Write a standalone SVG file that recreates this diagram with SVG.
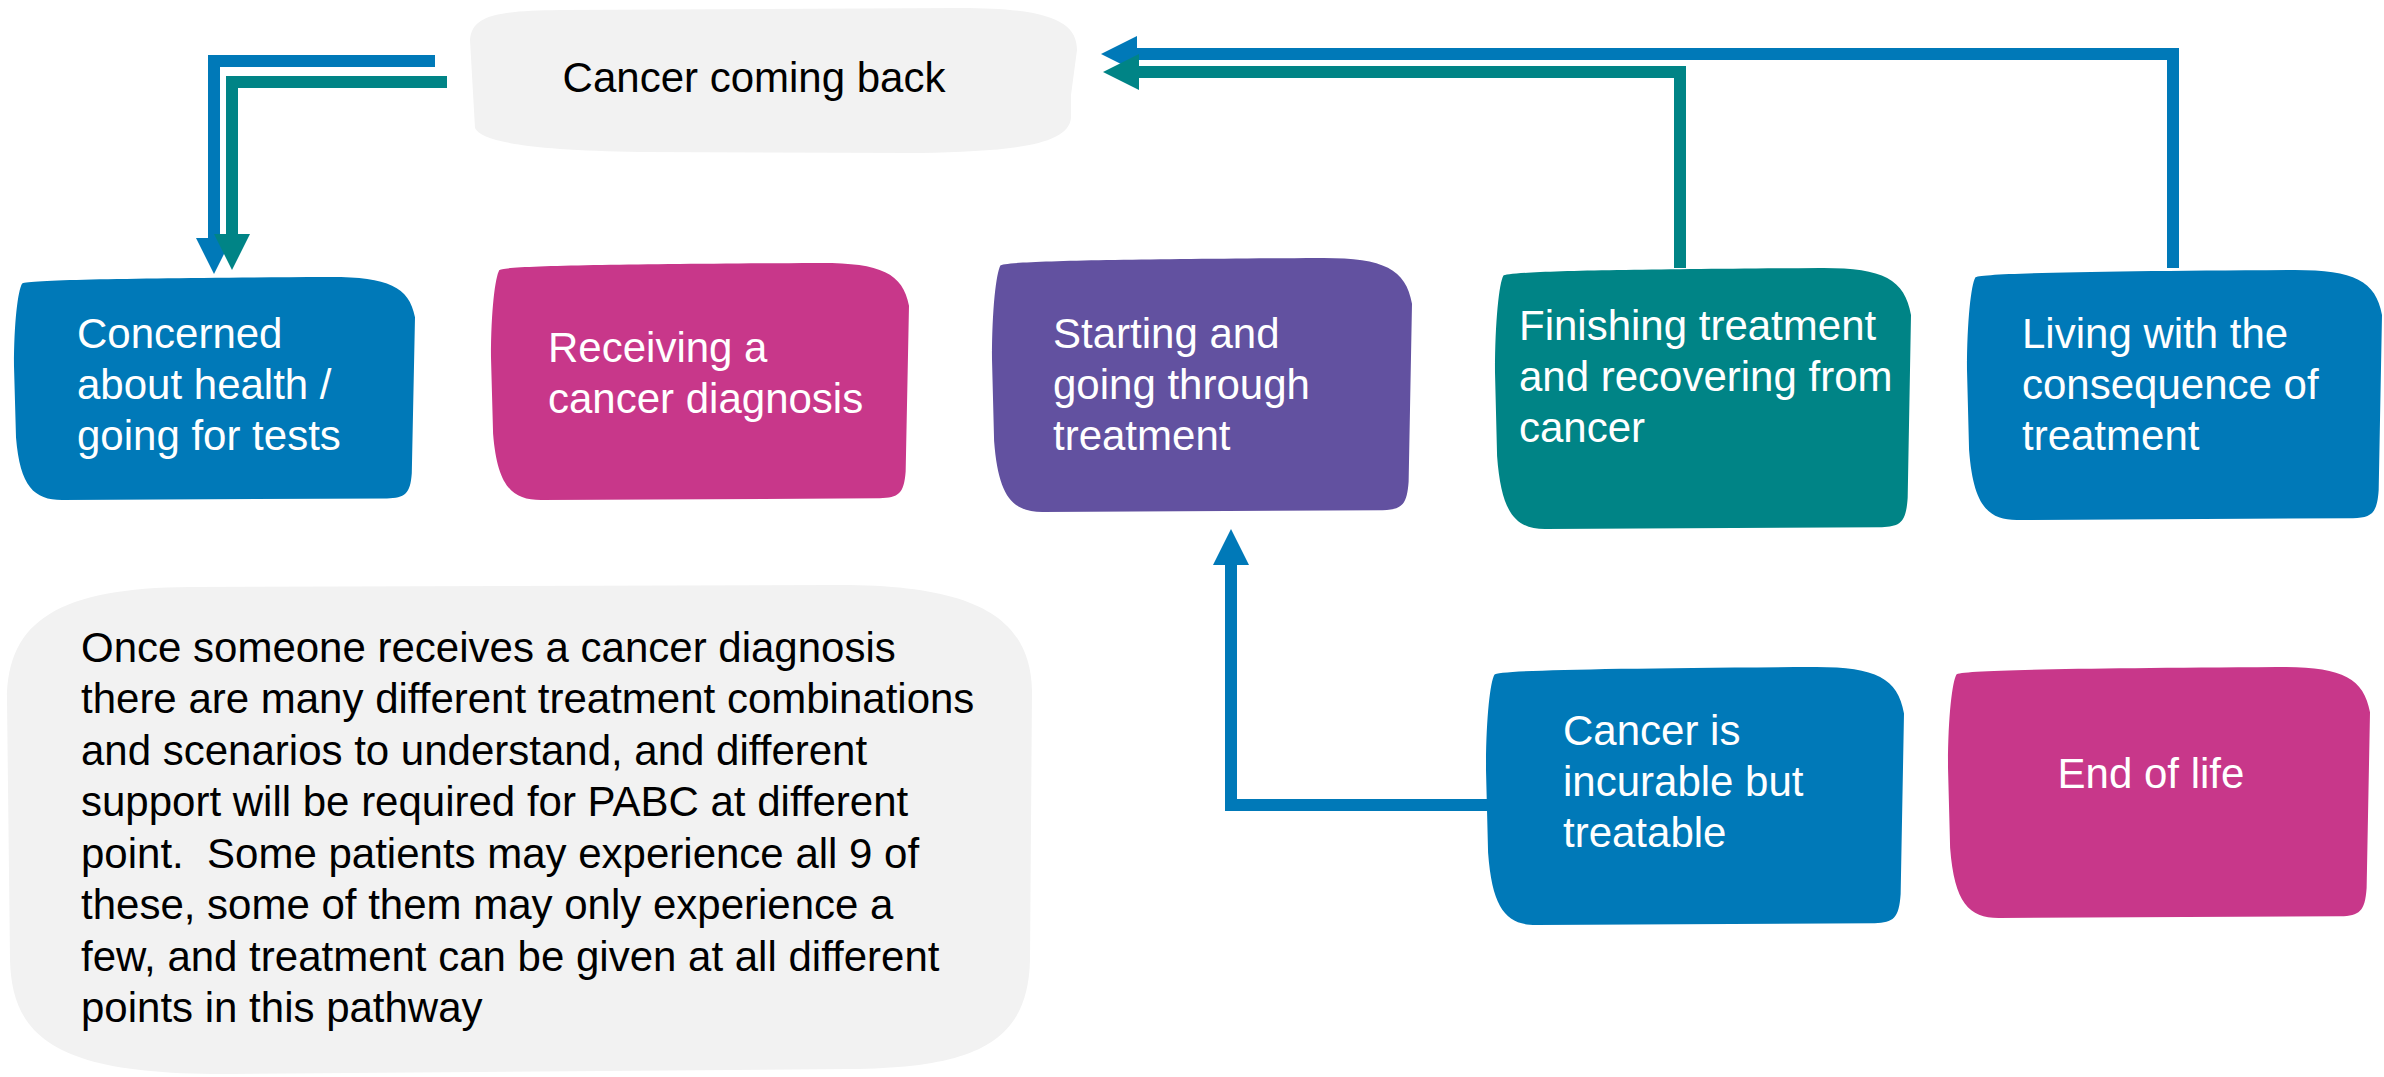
<svg xmlns="http://www.w3.org/2000/svg" xmlns:xlink="http://www.w3.org/1999/xlink" width="2384" height="1077" viewBox="0 0 2384 1077">
<style>
  .lbl { font-family: "Liberation Sans", Arial, sans-serif; font-size: 42px; fill: #ffffff; }
  .dark { font-family: "Liberation Sans", Arial, sans-serif; font-size: 42px; fill: #000000; }
  .blue { fill: #0079B8; }
  .mag { fill: #C8378A; }
  .pur { fill: #6251A0; }
  .teal { fill: #008486; }
  .gray { fill: #F2F2F2; }
  .cb { fill: none; stroke: #0079B8; stroke-width: 12; stroke-linejoin: miter; }
  .ct { fill: none; stroke: #008486; stroke-width: 12; stroke-linejoin: miter; }
</style>
<defs>
  <path id="blob" d="M 20,30 C 25,12 300,5 780,0 C 930,-2 985,40 1000,180 L 992,880 C 988,975 975,990 930,993 L 120,1000 C 50,1000 15,940 5,720 L 0,400 C 0,200 10,60 20,30 Z"/>
  <marker id="ahB" markerUnits="strokeWidth" markerWidth="3" markerHeight="3" refX="0" refY="1.5" orient="auto" overflow="visible">
    <path d="M0,0 L3,1.5 L0,3 Z" fill="#0079B8"/>
  </marker>
  <marker id="ahT" markerUnits="strokeWidth" markerWidth="3" markerHeight="3" refX="0" refY="1.5" orient="auto" overflow="visible">
    <path d="M0,0 L3,1.5 L0,3 Z" fill="#008486"/>
  </marker>
</defs>

<g id="cancer-coming-back">
  <path class="gray" d="M 470,40 C 472,14 500,11 560,10 L 960,8 C 1050,8 1077,22 1077,50 L 1071,95 L 1071,118 C 1068,146 1010,151 920,153 L 640,152 C 530,150 482,142 475,128 Z"/>
  <text class="dark" x="754" y="92" text-anchor="middle">Cancer coming back</text>
</g>

<g id="concerned">
  <use xlink:href="#blob" class="blue" transform="translate(14 277) scale(0.401 0.223)"/>
  <text class="lbl" x="77" y="348">Concerned</text>
  <text class="lbl" x="77" y="399">about health /</text>
  <text class="lbl" x="77" y="450">going for tests</text>
</g>

<g id="receiving">
  <use xlink:href="#blob" class="mag" transform="translate(491 263) scale(0.418 0.237)"/>
  <text class="lbl" x="548" y="362">Receiving a</text>
  <text class="lbl" x="548" y="413">cancer diagnosis</text>
</g>

<g id="starting">
  <use xlink:href="#blob" class="pur" transform="translate(992 258) scale(0.420 0.254)"/>
  <text class="lbl" x="1053" y="348">Starting and</text>
  <text class="lbl" x="1053" y="399">going through</text>
  <text class="lbl" x="1053" y="450">treatment</text>
</g>

<g id="finishing">
  <use xlink:href="#blob" class="teal" transform="translate(1495 268) scale(0.416 0.261)"/>
  <text class="lbl" x="1519" y="340">Finishing treatment</text>
  <text class="lbl" x="1519" y="391">and recovering from</text>
  <text class="lbl" x="1519" y="442">cancer</text>
</g>

<g id="living">
  <use xlink:href="#blob" class="blue" transform="translate(1967 270) scale(0.415 0.250)"/>
  <text class="lbl" x="2022" y="348">Living with the</text>
  <text class="lbl" x="2022" y="399">consequence of</text>
  <text class="lbl" x="2022" y="450">treatment</text>
</g>

<g id="incurable">
  <use xlink:href="#blob" class="blue" transform="translate(1486 667) scale(0.418 0.258)"/>
  <text class="lbl" x="1563" y="745">Cancer is</text>
  <text class="lbl" x="1563" y="796">incurable but</text>
  <text class="lbl" x="1563" y="847">treatable</text>
</g>

<g id="end-of-life">
  <use xlink:href="#blob" class="mag" transform="translate(1948 667) scale(0.422 0.251)"/>
  <text class="lbl" x="2151" y="788" text-anchor="middle">End of life</text>
</g>

<g id="note">
  <path class="gray" d="M 7,700 C 7,620 60,588 190,587 L 840,585 C 980,585 1030,620 1032,690 L 1030,960 C 1028,1040 980,1068 850,1069 L 230,1074 C 60,1075 12,1040 10,960 Z"/>
  <text class="dark" x="81" y="662">Once someone receives a cancer diagnosis</text>
  <text class="dark" x="81" y="713">there are many different treatment combinations</text>
  <text class="dark" x="81" y="765">and scenarios to understand, and different</text>
  <text class="dark" x="81" y="816">support will be required for PABC at different</text>
  <text class="dark" x="81" y="868" xml:space="preserve">point.  Some patients may experience all 9 of</text>
  <text class="dark" x="81" y="919">these, some of them may only experience a</text>
  <text class="dark" x="81" y="971">few, and treatment can be given at all different</text>
  <text class="dark" x="81" y="1022">points in this pathway</text>
</g>

<g id="connectors">
  <polyline class="cb" points="2173,268 2173,54 1137,54" marker-end="url(#ahB)"/>
  <polyline class="ct" points="1680,268 1680,72 1139,72" marker-end="url(#ahT)"/>
  <polyline class="cb" points="435,61 214,61 214,238" marker-end="url(#ahB)"/>
  <polyline class="ct" points="447,82 232,82 232,234" marker-end="url(#ahT)"/>
  <polyline class="cb" points="1487,805 1231,805 1231,565" marker-end="url(#ahB)"/>
</g>
</svg>
